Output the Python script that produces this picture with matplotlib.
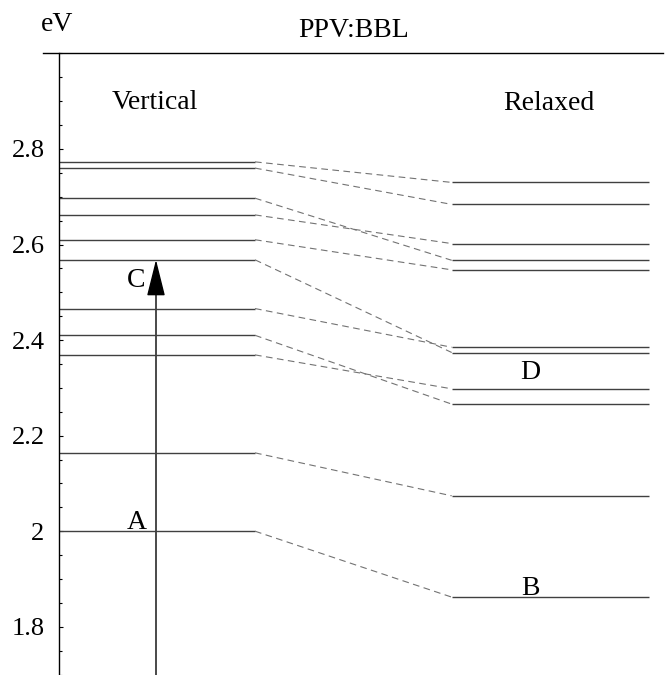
import matplotlib
matplotlib.use("Agg")
import matplotlib.pyplot as plt
from matplotlib.patches import FancyArrowPatch
from matplotlib.ticker import MultipleLocator, FixedLocator

# Excitation energies (eV) of PPV:BBL states
vertical = [2.773, 2.760, 2.697, 2.662, 2.610, 2.568, 2.466, 2.410, 2.369, 2.164, 2.000]
# Relaxed energy of each state, in the same order as the vertical list
relaxed = [2.730, 2.684, 2.567, 2.602, 2.547, 2.374, 2.385, 2.266, 2.298, 2.074, 1.862]

y_ticks = [1.8, 2.0, 2.2, 2.4, 2.6, 2.8]
y_tick_labels = ["1.8", "2", "2.2", "2.4", "2.6", "2.8"]

# State labels: (text, column, energy of the level, above/below the level)
state_labels = [("A", "vertical", 2.000, "above"), ("C", "vertical", 2.568, "below"),
                ("D", "relaxed", 2.374, "below"), ("B", "relaxed", 1.862, "above")]

W, H = 672, 675
plt.rcParams["font.family"] = ["Liberation Serif", "DejaVu Serif"]

fig = plt.figure(figsize=(W / 100, H / 100), dpi=100)

# axes span in pixels
ax_left, ax_right, ax_top, ax_bottom = 58.5, 663.0, 52.7, 675.0
ax = fig.add_axes([ax_left / W, 1 - ax_bottom / H,
                   (ax_right - ax_left) / W, (ax_bottom - ax_top) / H])
ax.set_xlim(ax_left, ax_right)
ax.set_ylim(1.699, 3.0015)

# column extents (x in pixel units of the axes)
vx0, vx1 = 58.5, 255.0
rx0, rx1 = 451.7, 649.3
level_color = "0.25"

for ev, er in zip(vertical, relaxed):
    ax.plot([vx0, vx1], [ev, ev], color=level_color, lw=1.0, solid_capstyle="butt")
    ax.plot([rx0, rx1], [er, er], color=level_color, lw=1.0, solid_capstyle="butt")
    ax.plot([vx1, rx0], [ev, er], color="0.45", lw=0.8, linestyle=(0, (6, 4)))

# excitation arrow up to C
arrow_x = 156
arrow = FancyArrowPatch((arrow_x, 1.699), (arrow_x, vertical[5]),
                        arrowstyle="-|>,head_length=23,head_width=5.75",
                        mutation_scale=1, color="black", lw=1.0,
                        shrinkA=0, shrinkB=0)
ax.add_patch(arrow)

fs = 20
label_x = {"vertical": 136.5, "relaxed": 530.5}
for text, col, e, side in state_labels:
    y = e + 0.005 if side == "above" else e - 0.056
    ax.text(label_x[col], y, text, ha="center", va="baseline", fontsize=fs)

# column headers
ax.text(155, 2.883, "Vertical", ha="center", va="baseline", fontsize=fs)
ax.text(548.5, 2.882, "Relaxed", ha="center", va="baseline", fontsize=fs)

# frame: only the left axis, plus a rule along the top
for side in ("right", "bottom", "top"):
    ax.spines[side].set_visible(False)
ax.spines["left"].set_linewidth(1.0)
ax.plot([42.7, 663.0], [3.0015, 3.0015], color="black", lw=1.0, clip_on=False)

ax.set_xticks([])
ax.yaxis.set_major_locator(FixedLocator(y_ticks))
ax.set_yticklabels(y_tick_labels, fontsize=19)
ax.yaxis.set_minor_locator(MultipleLocator(0.05))
ax.tick_params(axis="y", which="major", direction="in", length=3, width=0.8, pad=10)
ax.tick_params(axis="y", which="minor", direction="in", length=2, width=0.8)

fig.text(57 / W, 1 - 30.7 / H, "eV", ha="center", va="baseline", fontsize=fs)
fig.text(354 / W, 1 - 36.7 / H, "PPV:BBL", ha="center", va="baseline", fontsize=fs)

fig.savefig("out.png", dpi=100)
